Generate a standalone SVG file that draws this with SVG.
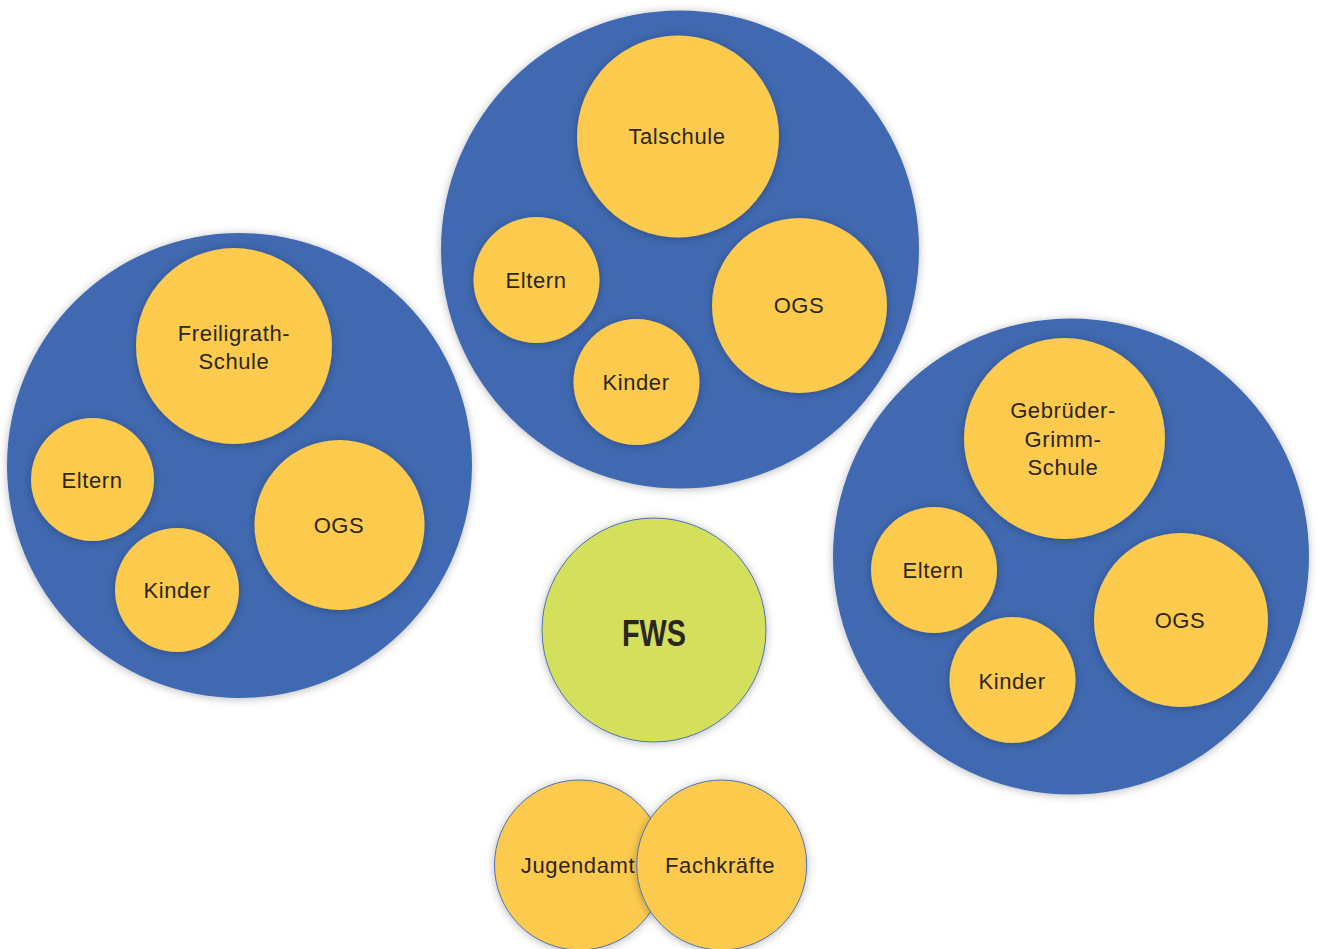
<svg xmlns="http://www.w3.org/2000/svg" width="1318" height="949" viewBox="0 0 1318 949">
<style>
.big{fill:#4169B1}
.y{fill:#FCCA4E}
.g{fill:#D4DF5B;stroke:#4A72B8;stroke-width:1}
.ys{fill:#FCCA4E;stroke:#4A72B8;stroke-width:1}
text{font-family:"Liberation Sans","Noto Sans",sans-serif;font-size:22px;fill:#2B2622;text-anchor:middle;letter-spacing:0.6px}
.b{font-weight:bold;font-size:36px;letter-spacing:0}
</style>
<defs>
<filter id="sh" x="-20%" y="-20%" width="140%" height="140%">
<feDropShadow dx="0" dy="1" stdDeviation="4" flood-color="#000" flood-opacity="0.28"/>
</filter>
</defs>
<rect width="1318" height="949" fill="#fff"/>
<g id="left-group" filter="url(#sh)">
<circle class="big" cx="239.5" cy="465.5" r="232.5"/>
</g>
<g id="top-group" filter="url(#sh)">
<circle class="big" cx="680" cy="249.5" r="239"/>
</g>
<g id="right-group" filter="url(#sh)">
<circle class="big" cx="1071" cy="556.5" r="238"/>
</g>
<g id="freiligrath" filter="url(#sh)">
<circle class="y" cx="234" cy="346" r="98"/>
</g>
<text x="234" y="341">Freiligrath-</text><text x="234" y="369">Schule</text>
<g id="left-eltern" filter="url(#sh)"><circle class="y" cx="92.5" cy="479.5" r="61.5"/></g>
<text x="92" y="488">Eltern</text>
<g id="left-kinder" filter="url(#sh)"><circle class="y" cx="177" cy="590" r="62"/></g>
<text x="177" y="598">Kinder</text>
<g id="left-ogs" filter="url(#sh)"><circle class="y" cx="339.5" cy="525" r="85"/></g>
<text x="339" y="533">OGS</text>

<g id="talschule" filter="url(#sh)"><circle class="y" cx="678" cy="136.5" r="101"/></g>
<text x="677" y="144">Talschule</text>
<g id="top-eltern" filter="url(#sh)"><circle class="y" cx="536.5" cy="280" r="63"/></g>
<text x="536" y="288">Eltern</text>
<g id="top-kinder" filter="url(#sh)"><circle class="y" cx="636.5" cy="382" r="63"/></g>
<text x="636" y="390">Kinder</text>
<g id="top-ogs" filter="url(#sh)"><circle class="y" cx="799.5" cy="305.5" r="87.5"/></g>
<text x="799" y="313">OGS</text>

<g id="gebrueder" filter="url(#sh)"><circle class="y" cx="1064.5" cy="438.5" r="100.5"/></g>
<text x="1063" y="418">Gebrüder-</text><text x="1063" y="447">Grimm-</text><text x="1063" y="475">Schule</text>
<g id="right-eltern" filter="url(#sh)"><circle class="y" cx="934" cy="570" r="63"/></g>
<text x="933" y="578">Eltern</text>
<g id="right-kinder" filter="url(#sh)"><circle class="y" cx="1012.5" cy="680" r="63"/></g>
<text x="1012" y="689">Kinder</text>
<g id="right-ogs" filter="url(#sh)"><circle class="y" cx="1181" cy="620" r="87"/></g>
<text x="1180" y="628">OGS</text>

<g id="fws">
<circle class="g" cx="654" cy="630" r="112" filter="url(#sh)"/>
<text class="b" x="654" y="646" textLength="64" lengthAdjust="spacingAndGlyphs">FWS</text>
</g>
<g id="jugendamt">
<circle class="ys" cx="579.5" cy="865" r="85" filter="url(#sh)"/>
<text x="578" y="873">Jugendamt</text>
</g>
<g id="fachkraefte">
<circle class="ys" cx="721.7" cy="865" r="85" filter="url(#sh)"/>
<text x="720" y="873">Fachkräfte</text>
</g>
<g id="connectors"/>
</svg>
